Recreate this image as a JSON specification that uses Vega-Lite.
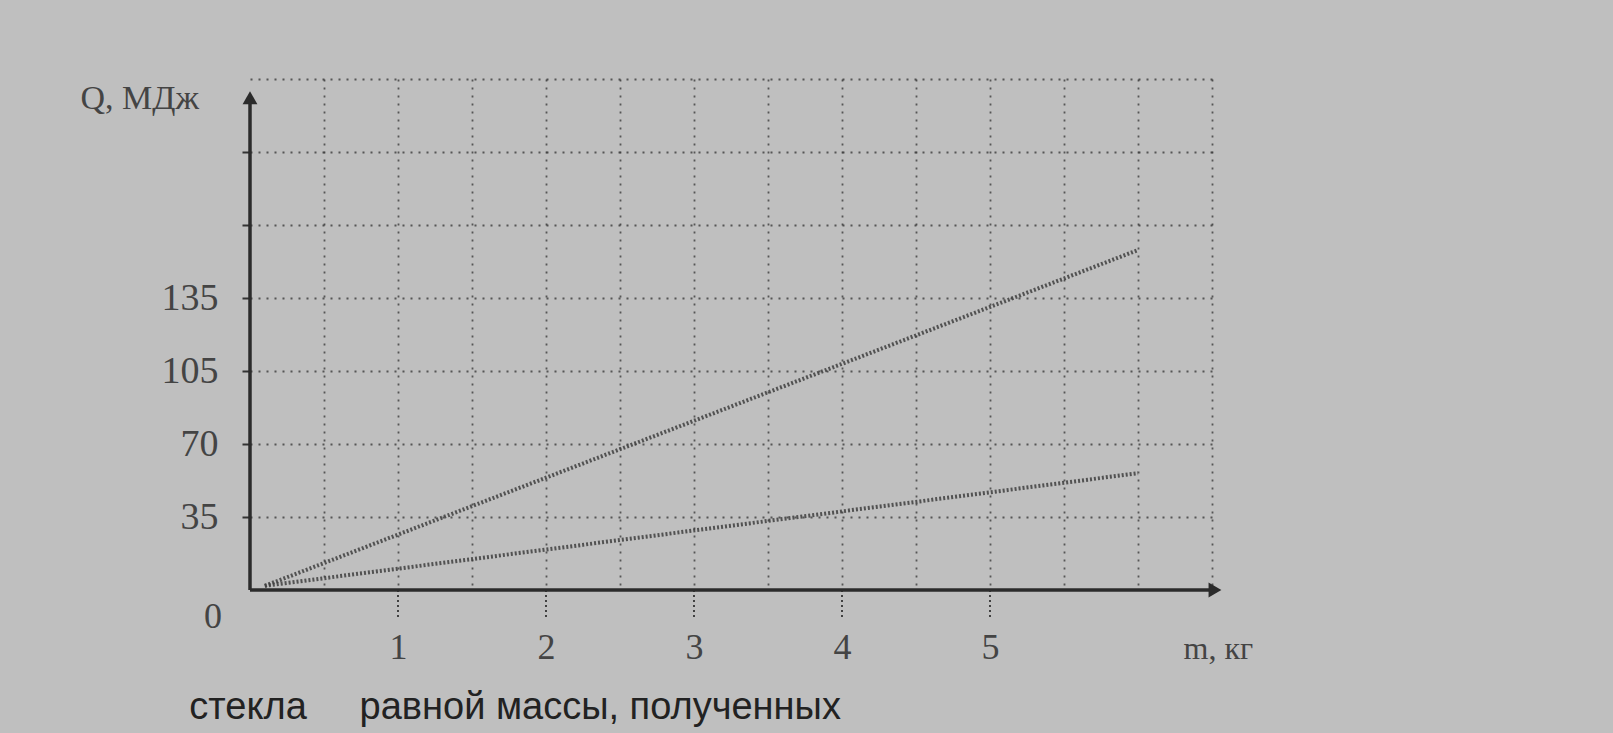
{
  "$schema": "https://vega.github.io/schema/vega-lite/v6.json",
  "width": 962,
  "height": 511,
  "autosize": {"type": "none"},
  "padding": {"left": 250, "top": 79, "right": 401, "bottom": 143},
  "background": "#bfbfbf",
  "config": {"view": {"stroke": null}, "font": "Liberation Serif"},
  "datasets": {
    "lines": [
      {"fuel": "A", "m": 0.1, "Q": 2},
      {"fuel": "A", "m": 6, "Q": 163},
      {"fuel": "B", "m": 0.1, "Q": 2},
      {"fuel": "B", "m": 6, "Q": 56}
    ],
    "ticks": [{"m": 1}, {"m": 2}, {"m": 3}, {"m": 4}, {"m": 5}]
  },
  "layer": [
    {
      "data": {"name": "lines"},
      "mark": {"type": "line", "strokeWidth": 4, "strokeDash": [2, 2], "color": "#3e3e3e", "opacity": 0.85},
      "encoding": {
        "x": {
          "field": "m", "type": "quantitative",
          "scale": {"domain": [0, 6.5], "nice": false, "zero": false},
          "axis": {
            "values": [0.5, 1, 1.5, 2, 2.5, 3, 3.5, 4, 4.5, 5, 5.5, 6, 6.5],
            "grid": true, "gridDash": [2, 6], "gridColor": "#2a2a2a", "gridWidth": 1.8, "gridOpacity": 0.7,
            "domain": false, "ticks": false, "tickSize": 0,
            "labelExpr": "(datum.value % 1 == 0 && datum.value <= 5) ? format(datum.value, 'd') : ''",
            "labelFontSize": 36, "labelColor": "#444444", "labelPadding": 40, "labelFont": "Liberation Serif",
            "title": "m, кг", "titleX": 933, "titleY": 58, "titleAlign": "left", "titleBaseline": "middle",
            "titleFontSize": 32, "titleFontWeight": "normal", "titleColor": "#444444", "titleFont": "Liberation Serif"
          }
        },
        "y": {
          "field": "Q", "type": "quantitative",
          "scale": {"domain": [0, 245], "nice": false},
          "axis": {
            "values": [35, 70, 105, 140, 175, 210, 245],
            "grid": true, "gridDash": [2, 6], "gridColor": "#2a2a2a", "gridWidth": 1.8, "gridOpacity": 0.7,
            "domain": false, "ticks": true, "tickSize": 8, "tickColor": "#333333", "tickWidth": 2,
            "tickOpacity": {"condition": {"test": "datum.value == 245", "value": 0}, "value": 1},
            "labelExpr": "datum.value == 140 ? '135' : (datum.value <= 105 ? datum.label : '')",
            "labelFontSize": 38, "labelColor": "#444444", "labelPadding": 24, "labelFont": "Liberation Serif",
            "title": "Q, МДж", "titleAngle": 0, "titleX": -170, "titleY": 19, "titleAlign": "left", "titleBaseline": "middle",
            "titleFontSize": 34, "titleFontWeight": "normal", "titleColor": "#444444", "titleFont": "Liberation Serif"
          }
        },
        "detail": {"field": "fuel"}
      }
    },
    {
      "data": {"name": "ticks"},
      "mark": {"type": "rule", "strokeDash": [2, 3], "strokeWidth": 1.8, "color": "#333333"},
      "encoding": {
        "x": {"field": "m", "type": "quantitative"},
        "y": {"datum": 0, "type": "quantitative"},
        "y2": {"datum": -14}
      }
    },
    {
      "data": {"values": [{}]},
      "mark": {"type": "rule", "color": "#2b2b2b", "strokeWidth": 3.5},
      "encoding": {
        "x": {"datum": 0, "type": "quantitative"},
        "x2": {"datum": 6.5},
        "y": {"datum": 0, "type": "quantitative"}
      }
    },
    {
      "data": {"values": [{}]},
      "mark": {"type": "rule", "color": "#2b2b2b", "strokeWidth": 3.5},
      "encoding": {
        "x": {"datum": 0, "type": "quantitative"},
        "y": {"datum": 0, "type": "quantitative"},
        "y2": {"datum": 236}
      }
    },
    {
      "data": {"values": [{}]},
      "mark": {"type": "point", "shape": "triangle-up", "filled": true, "size": 220, "color": "#2b2b2b", "opacity": 1},
      "encoding": {
        "x": {"datum": 0, "type": "quantitative"},
        "y": {"datum": 236, "type": "quantitative"}
      }
    },
    {
      "data": {"values": [{}]},
      "mark": {"type": "point", "shape": "triangle-right", "filled": true, "size": 220, "color": "#2b2b2b", "opacity": 1},
      "encoding": {
        "x": {"datum": 6.52, "type": "quantitative"},
        "y": {"datum": 0, "type": "quantitative"}
      }
    },
    {
      "data": {"values": [{"t": "0"}]},
      "mark": {"type": "text", "fontSize": 36, "color": "#444444", "font": "Liberation Serif", "align": "center", "baseline": "middle"},
      "encoding": {
        "x": {"datum": -0.25, "type": "quantitative"},
        "y": {"datum": -13, "type": "quantitative"},
        "text": {"field": "t"}
      }
    },
    {
      "data": {"values": [{"t": "стекла \u00a0\u00a0\u00a0 равной массы, полученных"}]},
      "mark": {"type": "text", "fontSize": 38, "color": "#222222", "font": "Liberation Sans Narrow, Liberation Sans", "align": "left", "baseline": "alphabetic"},
      "encoding": {
        "x": {"datum": -0.41, "type": "quantitative"},
        "y": {"datum": -62, "type": "quantitative"},
        "text": {"field": "t"}
      }
    }
  ]
}
